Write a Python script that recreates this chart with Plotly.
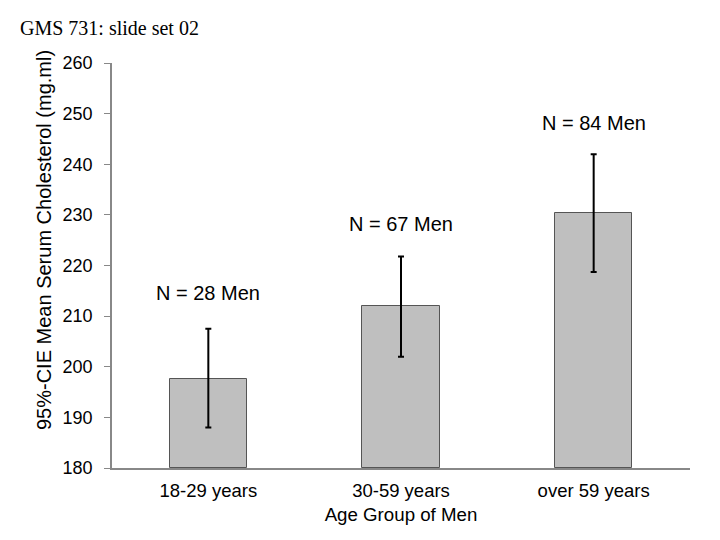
import plotly.graph_objects as go

categories = ["18-29 years", "30-59 years", "over 59 years"]
means = [197.6, 212.0, 230.3]
ci_upper = [207.5, 221.8, 242.0]
ci_lower = [188.0, 202.0, 218.7]
n_labels = ["N = 28 Men", "N = 67 Men", "N = 84 Men"]
n_label_y = [214.6, 228.2, 248.2]

xpos = list(range(len(categories)))
err_plus = [u - m for u, m in zip(ci_upper, means)]
err_minus = [m - l for m, l in zip(means, ci_lower)]

fig = go.Figure()
fig.add_trace(go.Bar(
    x=xpos, y=[m - 180 for m in means], base=180,
    width=0.4,
    marker=dict(color="#BFBFBF", line=dict(color="#555555", width=1)),
    error_y=dict(type="data", symmetric=False, array=err_plus, arrayminus=err_minus,
                 color="black", thickness=2, width=3),
    showlegend=False, hoverinfo="skip",
))

for x, t, y in zip(xpos, n_labels, n_label_y):
    fig.add_annotation(x=x, y=y, text=t, showarrow=False,
                       font=dict(family="Liberation Sans, Arial", size=20, color="black"))

fig.add_annotation(xref="paper", yref="paper", x=-0.1626, y=1.0864, xanchor="left", yanchor="middle",
                   text="GMS 731: slide set 02", showarrow=False,
                   font=dict(family="Liberation Serif, Times New Roman", size=20, color="black"))

fig.add_annotation(xref="paper", yref="paper", x=-0.1176, y=0.563, xanchor="center", yanchor="middle",
                   text="95%-CIE Mean Serum Cholesterol (mg.ml)", showarrow=False, textangle=-90,
                   font=dict(family="Liberation Sans, Arial", size=20, color="black"))

fig.update_layout(
    width=720, height=540,
    margin=dict(l=104, r=38, t=55, b=80),
    paper_bgcolor="white", plot_bgcolor="white",
    font=dict(family="Liberation Sans, Arial", size=18.5, color="black"),
    bargap=0,
)
fig.update_xaxes(
    range=[-0.5, 2.5], tickvals=xpos, ticktext=categories,
    showline=True, linecolor="#888888", linewidth=1.5, ticks="",
    ticklabelstandoff=5,
    showgrid=False, zeroline=False,
    title=dict(text="Age Group of Men", standoff=8, font=dict(size=18.7)),
    tickfont=dict(size=18.5),
)
fig.update_yaxes(
    range=[180, 260], dtick=10,
    showline=True, linecolor="#888888", linewidth=1.5,
    ticks="outside", ticklen=6, tickcolor="#888888",
    ticklabelstandoff=8,
    showgrid=False, zeroline=False,
    tickfont=dict(size=18),
)

fig.write_html("out.html")
